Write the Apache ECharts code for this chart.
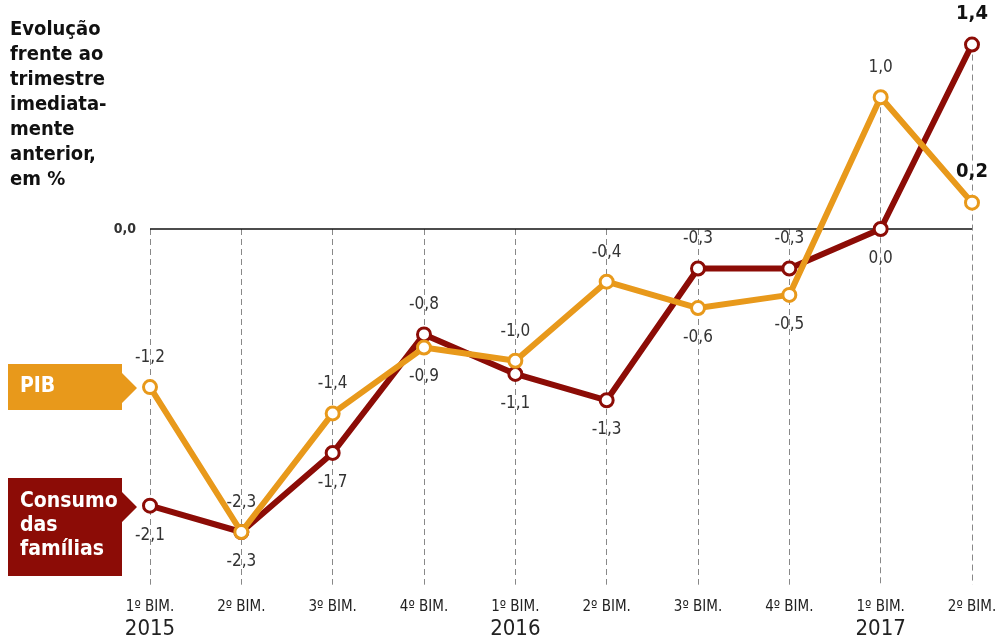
<!DOCTYPE html>
<html>
<head>
<meta charset="utf-8">
<script src="https://cdn.jsdelivr.net/npm/echarts@6/dist/echarts.min.js"></script>
<style>
  html, body { margin: 0; padding: 0; background: #fff; }
  #chart { width: 1003px; height: 642px; }
</style>
</head>
<body>
<div id="chart"></div>
<script>
// Bimesters and the year shown under the first bimester of each year
const periods = ['1º BIM.', '2º BIM.', '3º BIM.', '4º BIM.', '1º BIM.', '2º BIM.', '3º BIM.', '4º BIM.', '1º BIM.', '2º BIM.'];
const years = ['2015', '', '', '', '2016', '', '', '', '2017', ''];

// Quarter-on-quarter change, %
const pib = [-1.2, -2.3, -1.4, -0.9, -1.0, -0.4, -0.6, -0.5, 1.0, 0.2];
const consumo = [-2.1, -2.3, -1.7, -0.8, -1.1, -1.3, -0.3, -0.3, 0.0, 1.4];

const FONT = '"Liberation Sans Narrow", "DejaVu Sans Condensed", sans-serif';
const ORANGE = '#E8991B';
const RED = '#8C0C06';

// which side of the point each value label sits on
const pibSide = ['top', 'bottom', 'top', 'bottom', 'top', 'top', 'bottom', 'bottom', 'top', 'top'];
const consumoSide = ['bottom', 'top', 'bottom', 'top', 'bottom', 'bottom', 'top', 'top', 'bottom', 'top'];

const fmt = v => v.toFixed(1).replace('.', ',');

function seriesData(values, sides) {
  const last = values.length - 1;
  return values.map((v, i) => ({
    value: v,
    label: {
      position: sides[i],
      fontSize: i === last ? 20 : 17,
      fontWeight: i === last ? 'bold' : 'normal',
      color: i === last ? '#111' : '#333'
    }
  }));
}

// dashed guides: from the highest mark (or the zero line) down to the axis
const Y_MIN = -2.7, Y_MAX = 1.5;
const guides = periods.map((_, i) => [
  { coord: [i, Math.max(0, pib[i], consumo[i])] },
  { coord: [i, Y_MIN] }
]);

const chart = echarts.init(document.getElementById('chart'));

chart.setOption({
  animation: false,
  backgroundColor: '#fff',
  grid: { left: 150, right: 31, top: 31.4, bottom: 57.3 },
  xAxis: {
    type: 'category',
    data: periods,
    boundaryGap: false,
    axisLine: { show: false },
    axisTick: { show: false },
    splitLine: { show: false },
    axisLabel: {
      interval: 0,
      margin: 12,
      fontFamily: FONT,
      formatter: (val, idx) => years[idx] ? '{b|' + val + '}\n{y|' + years[idx] + '}' : '{b|' + val + '}',
      rich: {
        b: { fontFamily: FONT, fontSize: 15, color: '#222', lineHeight: 20 },
        y: { fontFamily: FONT, fontSize: 22, color: '#222', lineHeight: 26 }
      }
    }
  },
  yAxis: {
    type: 'value',
    min: Y_MIN,
    max: Y_MAX,
    show: false,
    splitLine: { show: false }
  },
  graphic: [
    {
      type: 'text', left: 10, top: 17,
      style: {
        text: 'Evolução\nfrente ao\ntrimestre\nimediata-\nmente\nanterior,\nem %',
        font: 'bold 20px ' + FONT, lineHeight: 25, fill: '#111'
      }
    },
    {
      type: 'polygon',
      shape: { points: [[8, 364], [122, 364], [122, 373], [137, 388], [122, 403], [122, 410], [8, 410]] },
      style: { fill: ORANGE }
    },
    {
      type: 'text', left: 20, top: 376,
      style: { text: 'PIB', font: 'bold 21px ' + FONT, fill: '#fff' }
    },
    {
      type: 'polygon',
      shape: { points: [[8, 478], [122, 478], [122, 492], [137, 507], [122, 522], [122, 576], [8, 576]] },
      style: { fill: RED }
    },
    {
      type: 'text', left: 20, top: 490,
      style: { text: 'Consumo\ndas\nfamílias', font: 'bold 21px ' + FONT, lineHeight: 24, fill: '#fff' }
    }
  ],
  series: [
    {
      name: 'Consumo das famílias',
      type: 'line',
      data: seriesData(consumo, consumoSide),
      z: 3,
      symbol: 'circle',
      symbolSize: 13,
      lineStyle: { color: RED, width: 6 },
      itemStyle: { color: '#fff', borderColor: RED, borderWidth: 3 },
      label: { show: true, distance: 13, fontFamily: FONT, formatter: p => fmt(p.value) },
      markLine: {
        silent: true,
        symbol: 'none',
        z: 1,
        lineStyle: { color: '#888', type: [6, 4], width: 1 },
        label: { show: false },
        data: guides
      }
    },
    {
      name: 'PIB',
      type: 'line',
      data: seriesData(pib, pibSide),
      z: 4,
      symbol: 'circle',
      symbolSize: 13,
      lineStyle: { color: ORANGE, width: 6 },
      itemStyle: { color: '#fff', borderColor: ORANGE, borderWidth: 3 },
      label: { show: true, distance: 13, fontFamily: FONT, formatter: p => fmt(p.value) },
      markLine: {
        silent: true,
        symbol: 'none',
        z: 2,
        lineStyle: { color: '#111', type: 'solid', width: 1.5 },
        label: {
          show: true, position: 'start', distance: 14,
          formatter: '0,0', fontFamily: FONT, fontSize: 14, fontWeight: 'bold', color: '#333'
        },
        data: [{ yAxis: 0 }]
      }
    }
  ]
});
</script>
</body>
</html>
